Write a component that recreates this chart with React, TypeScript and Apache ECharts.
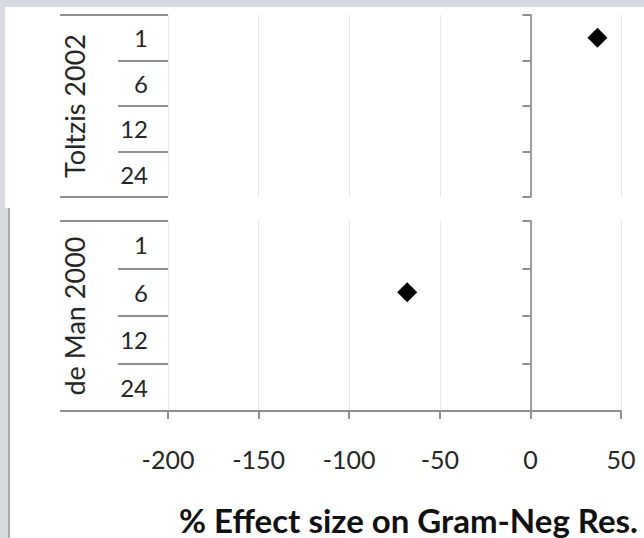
import React, { useEffect, useRef } from "react";
import * as echarts from "echarts";

// Follow-up months shown for each study
const months = ["1", "6", "12", "24"];
const studies = ["Toltzis 2002", "de Man 2000"];
// % effect size per month (null = not reported)
const toltzisEffect: (number | null)[] = [37, null, null, null];
const deManEffect: (number | null)[] = [null, -68, null, null];
const effectSeries = [toltzisEffect, deManEffect];

const xMin = -200;
const xMax = 50;
const xStep = 50;
const xTitle = "% Effect size on Gram-Neg Res.";

const FONT = "Lato, 'Open Sans', sans-serif";
const LINE = "#8f8f8f";
const GRID_LINE = "#e4e4e4";
const TEXT = "#262626";

export default function App() {
  const ref = useRef<HTMLDivElement>(null);

  useEffect(() => {
    if (!ref.current) return;
    const chart = echarts.init(ref.current, undefined, { renderer: "svg" });

    const grids = [
      { left: 168, top: 15, width: 453, height: 182 },
      { left: 168, top: 221, width: 453, height: 190 },
    ];

    const xAxes = grids.map((_, gi) => {
      const isBottom = gi === grids.length - 1;
      return {
        gridIndex: gi,
        type: "value",
        min: xMin,
        max: xMax,
        interval: xStep,
        axisLine: { show: isBottom, onZero: false, lineStyle: { color: LINE, width: 2 } },
        axisTick: { show: isBottom, length: 8, lineStyle: { color: LINE, width: 2 } },
        axisLabel: {
          show: isBottom,
          margin: 35,
          fontSize: 25,
          fontFamily: FONT,
          color: TEXT,
        },
        splitLine: { show: true, lineStyle: { color: GRID_LINE, width: 1 } },
        name: isBottom ? xTitle : "",
        nameLocation: "middle",
        nameGap: 92,
        nameTextStyle: {
          fontSize: 33,
          fontWeight: "bold",
          fontFamily: FONT,
          color: "#111111",
          padding: [0, 0, 0, 28],
        },
      };
    });

    const yAxes: any[] = [];
    grids.forEach((_, gi) => {
      // month labels with row dividers
      yAxes.push({
        gridIndex: gi,
        type: "category",
        data: months,
        inverse: true,
        position: "left",
        axisLine: { show: false, onZero: false },
        axisTick: { show: true, length: 50, lineStyle: { color: LINE, width: 2 } },
        axisLabel: { margin: 20, fontSize: 24, fontFamily: FONT, color: TEXT },
        splitLine: { show: false },
      });
      // vertical line at zero effect
      yAxes.push({
        gridIndex: gi,
        type: "category",
        data: months,
        inverse: true,
        position: "left",
        axisLine: { show: true, onZero: true, lineStyle: { color: "#9d9d9d", width: 2 } },
        axisTick: { show: true, length: 8, lineStyle: { color: LINE, width: 2 } },
        axisLabel: { show: false },
        splitLine: { show: false },
      });
      // study name level
      yAxes.push({
        gridIndex: gi,
        type: "category",
        data: [studies[gi]],
        position: "left",
        axisLine: { show: false, onZero: false },
        axisTick: { show: true, length: 108, lineStyle: { color: LINE, width: 2 } },
        axisLabel: {
          rotate: 90,
          margin: 80,
          fontSize: 27,
          fontFamily: FONT,
          color: TEXT,
        },
        splitLine: { show: false },
      });
    });

    const series = effectSeries.map((vals, gi) => ({
      type: "scatter",
      name: studies[gi],
      xAxisIndex: gi,
      yAxisIndex: gi * 3,
      symbol: "diamond",
      symbolSize: 20,
      itemStyle: { color: "#000000", opacity: 1 },
      data: months
        .map((m, i) => (vals[i] == null ? null : [vals[i], m]))
        .filter((d) => d !== null),
    }));

    chart.setOption({
      animation: false,
      backgroundColor: "#ffffff",
      textStyle: { fontFamily: FONT },
      graphic: {
        elements: [
          { type: "rect", id: "bandTop", z: 50, shape: { x: 0, y: 0, width: 644, height: 7 }, style: { fill: "#d6dae2" }, silent: true },
          { type: "rect", id: "bandLeftTop", z: 50, shape: { x: 0, y: 7, width: 5, height: 201 }, style: { fill: "#d9dadf" }, silent: true },
          { type: "rect", id: "bandLeftBottom", z: 50, shape: { x: 0, y: 208, width: 8, height: 330 }, style: { fill: "#d9dadf" }, silent: true },
          { type: "rect", id: "edgeLeftBottom", z: 50, shape: { x: 8, y: 208, width: 2, height: 330 }, style: { fill: "#a8a8ad" }, silent: true },
        ],
      },
      grid: grids,
      xAxis: xAxes,
      yAxis: yAxes,
      series,
    });

    return () => chart.dispose();
  }, []);

  return (
    <div
      ref={ref}
      style={{ position: "fixed", left: 0, top: 0, width: 644, height: 538 }}
    />
  );
}
